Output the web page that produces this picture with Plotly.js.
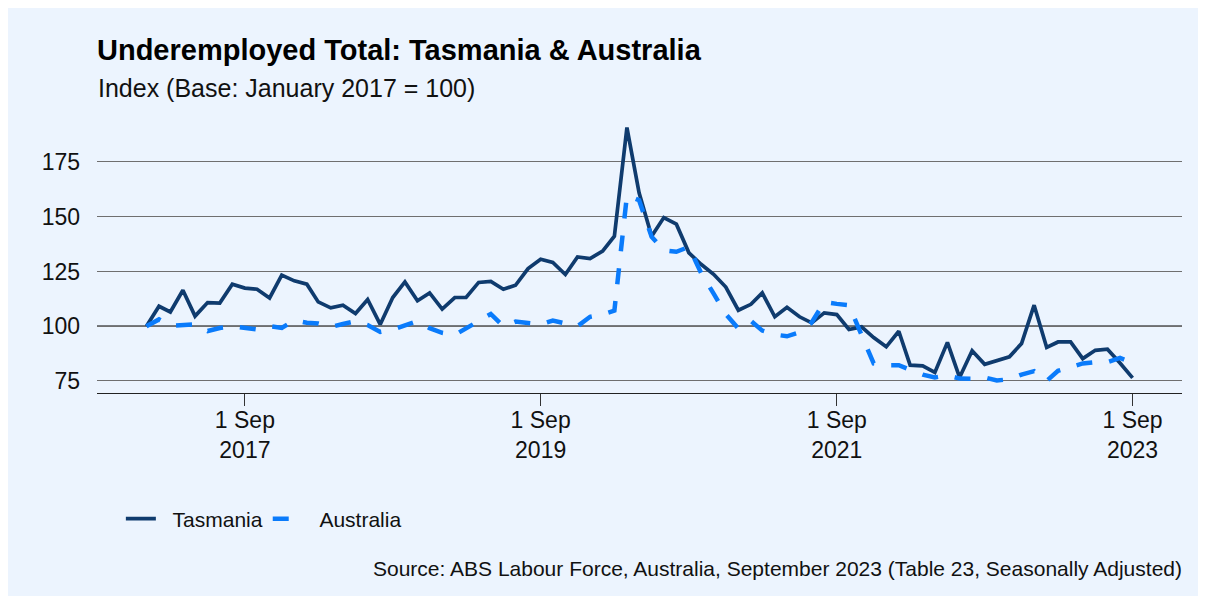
<!DOCTYPE html>
<html><head><meta charset="utf-8">
<script src="https://cdn.plot.ly/plotly-3.0.1.min.js"></script>
<style>
html,body{margin:0;padding:0;background:#ffffff;}
#chart{position:absolute;left:8px;top:8px;width:1190px;height:588px;}
</style></head><body><div id="chart"></div>
<script>
// Monthly observations, January 2017 to September 2023
const startYear = 2017;
const nMonths = 81;
const months = [];
for (let i = 0; i < nMonths; i++) {
  const y = startYear + Math.floor(i / 12);
  const m = (i % 12) + 1;
  months.push(y + '-' + String(m).padStart(2, '0') + '-01');
}

const tasmania = [100, 109.1, 106.5, 116.4, 104.6, 110.8, 110.6, 119.2, 117.4, 116.9,
  112.9, 123.3, 120.7, 119.2, 111.1, 108.4, 109.6, 105.8, 112.2, 100.8,
  113.1, 120.2, 111.6, 115.2, 107.8, 113.1, 113.1, 120.0, 120.5, 116.9,
  118.7, 126.3, 130.6, 129.1, 123.6, 131.6, 130.9, 134.3, 141.1, 190.7,
  160.9, 141.1, 149.6, 146.6, 133.5, 128.3, 123.7, 117.9, 107.3, 110.0,
  115.2, 104.3, 108.6, 104.3, 101.5, 106.1, 105.3, 98.5, 99.7, 94.8,
  90.6, 97.7, 82.2, 81.9, 78.9, 92.6, 76.6, 88.8, 82.6, 84.2,
  86.0, 92.1, 109.6, 90.3, 92.8, 92.8, 85.2, 89.0, 89.5, 83.2, 76.4];

const australia = [100, 103.1, 100.2, 100.7, 100.8, 97.8, 99.2, 100.0, 99.2, 98.5,
  100.0, 99.2, 102.7, 101.6, 101.2, 99.7, 101.0, 102.3, 100.5, 97.4,
  98.5, 100.5, 102.3, 99.1, 97.0, 96.0, 98.9, 102.6, 105.6, 100.0,
  102.1, 101.5, 100.9, 102.6, 101.2, 100.0, 104.3, 105.4, 107.1, 159.8,
  157.5, 140.8, 134.7, 134.0, 136.2, 124.3, 114.9, 105.5, 98.9, 102.4,
  98.0, 96.2, 95.4, 97.2, 101.7, 111.0, 110.2, 109.6, 96.0, 83.0,
  82.2, 82.2, 80.1, 77.9, 76.6, 77.6, 76.1, 76.0, 76.6, 75.2,
  75.8, 77.9, 79.5, 75.0, 79.6, 81.5, 83.0, 83.6, 83.6, 85.5, 83.3];

const seriesNames = ['Tasmania', 'Australia'];
const xTickVals = ['2017-09-01', '2019-09-01', '2021-09-01', '2023-09-01'];
const xTickText = ['1 Sep<br>2017', '1 Sep<br>2019', '1 Sep<br>2021', '1 Sep<br>2023'];
const yTickVals = [75, 100, 125, 150, 175];
const referenceValue = 100;

const titleText = 'Underemployed Total: Tasmania & Australia';
const subtitleText = 'Index (Base: January 2017 = 100)';
const sourceText = 'Source: ABS Labour Force, Australia, September 2023 (Table 23, Seasonally Adjusted)';

const FONT = 'Liberation Sans, Arial, Helvetica, sans-serif';
const BG = '#ECF4FE';
const PAD = '\u00A0\u00A0';

const traces = [
  {x: months, y: tasmania, type: 'scatter', mode: 'lines', name: PAD + seriesNames[0],
   line: {color: '#0F3B6E', width: 3.7}},
  {x: months, y: australia, type: 'scatter', mode: 'lines', name: PAD + seriesNames[1],
   line: {color: '#0A7BFB', width: 4.5, dash: '16px,17px'}}
];

const layout = {
  width: 1190, height: 588,
  paper_bgcolor: BG, plot_bgcolor: BG,
  margin: {l: 89, r: 16, t: 106, b: 203},
  font: {family: FONT, color: '#111111'},
  title: {text: '<b>' + titleText + '</b>', xref: 'paper', x: 0, xanchor: 'left',
          yref: 'container', y: 0.929, yanchor: 'middle',
          font: {family: FONT, size: 29, color: '#000000'}},
  xaxis: {type: 'date', range: ['2016-09-01', '2024-01-01'],
          tickmode: 'array', tickvals: xTickVals, ticktext: xTickText,
          ticks: 'outside', ticklen: 12, tickwidth: 1, tickcolor: '#333333',
          ticklabelstandoff: -6,
          showline: true, linecolor: '#222222', linewidth: 1.3,
          showgrid: false, zeroline: false,
          tickfont: {family: FONT, size: 23, color: '#111111'}},
  yaxis: {range: [69.5, 196.9], tickmode: 'array', tickvals: yTickVals,
          showgrid: true, gridcolor: '#6f6f6f', gridwidth: 1,
          zeroline: false, showline: false, ticks: '',
          ticklabelstandoff: 16,
          tickfont: {family: FONT, size: 23, color: '#111111'}},
  shapes: [{type: 'line', xref: 'paper', x0: 0, x1: 1, yref: 'y',
            y0: referenceValue, y1: referenceValue, layer: 'between',
            line: {color: '#000000', width: 1.2}}],
  legend: {orientation: 'h', x: 0.022, xanchor: 'left', y: -0.4516, yanchor: 'middle',
           itemwidth: 30,
           bgcolor: 'rgba(0,0,0,0)', font: {family: FONT, size: 21, color: '#111111'}},
  annotations: [
    {text: subtitleText, xref: 'paper', x: 0, xanchor: 'left', xshift: -1, yref: 'paper', y: 1.0932,
     yanchor: 'middle', showarrow: false, font: {family: FONT, size: 25, color: '#111111'}},
    {text: sourceText, xref: 'paper', x: 1, xanchor: 'right', xshift: 2, yref: 'paper', y: -0.6308,
     yanchor: 'middle', showarrow: false, font: {family: FONT, size: 21, color: '#111111'}}
  ]
};

Plotly.newPlot('chart', traces, layout, {displayModeBar: false, staticPlot: true});
</script>
</body></html>
